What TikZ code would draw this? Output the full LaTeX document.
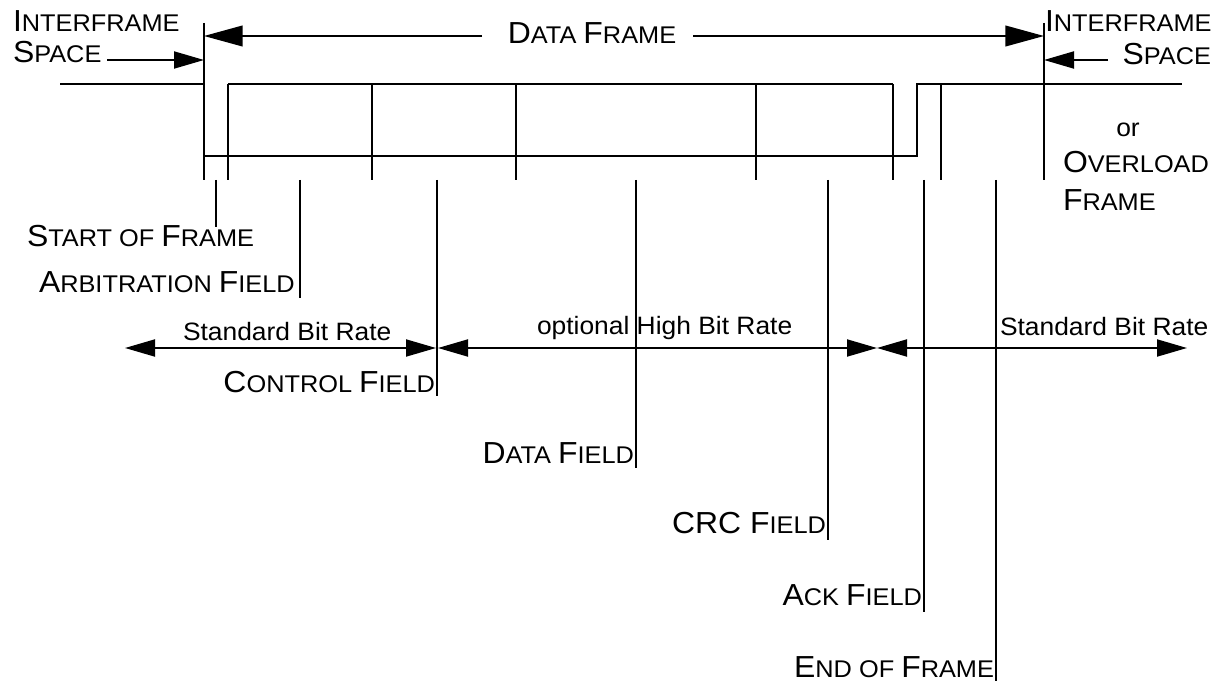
\documentclass[tikz,border=0pt]{standalone}
\usepackage{fontspec}
\setmainfont{Liberation Sans}[FakeStretch=1.05]
\usetikzlibrary{arrows.meta}
\newcommand\BC[1]{{\fontsize{22.8}{25}\selectfont #1}}
\newcommand\SC[1]{{\fontsize{18.1}{21}\selectfont #1}}
\newcommand\NT[1]{{\fontsize{18.85}{22}\selectfont #1}}
\begin{document}
\begin{tikzpicture}[x=0.75pt,y=-0.75pt,
  ln/.style={line width=1.45pt,line cap=butt},
  bigarr/.style={ln,-{Triangle[length=29pt,width=15.5pt]}},
  smallarr/.style={ln,-{Triangle[length=22.5pt,width=12.75pt]}},
  dblarr/.style={ln,{Triangle[length=22.5pt,width=12.75pt]}-{Triangle[length=22.5pt,width=12.75pt]}},
  lbl/.style={inner sep=0pt,outer sep=0pt}]
\useasboundingbox (0,0) rectangle (1221,681);

% ---- labels ----
\node[lbl,anchor=base west] (isl1) at (13,32) {\BC{I}\SC{NTERFRAME}};
\node[lbl,anchor=base west] (isl2) at (13,63) {\BC{S}\SC{PACE}};
\node[lbl,anchor=base] (dfr) at (592,44) {\BC{D}\SC{ATA }\BC{F}\SC{RAME}};
\node[lbl,anchor=base west] (isr1) at (1045,32) {\BC{I}\SC{NTERFRAME}};
\node[lbl,anchor=base east] (isr2) at (1211,65) {\BC{S}\SC{PACE}};
\node[lbl,anchor=base] (or) at (1128,137) {\NT{or}};
\node[lbl,anchor=base west] (ovl) at (1063,173) {\BC{O}\SC{VERLOAD}};
\node[lbl,anchor=base west] (ovf) at (1063,210) {\BC{F}\SC{RAME}};

\node[lbl,anchor=base west] (sof) at (27,247) {\BC{S}\SC{TART OF }\BC{F}\SC{RAME}};
\node[lbl,anchor=base west] (arb) at (39,292) {\BC{A}\SC{RBITRATION }\BC{F}\SC{IELD}};
\node[lbl,anchor=base east] (ctl) at (435,392) {\BC{C}\SC{ONTROL }\BC{F}\SC{IELD}};
\node[lbl,anchor=base east] (dat) at (634,463) {\BC{D}\SC{ATA }\BC{F}\SC{IELD}};
\node[lbl,anchor=base east] (crc) at (826,533) {\BC{CRC }\BC{F}\SC{IELD}};
\node[lbl,anchor=base east] (ack) at (922,605) {\BC{A}\SC{CK }\BC{F}\SC{IELD}};
\node[lbl,anchor=base east] (eof) at (994,677) {\BC{E}\SC{ND OF }\BC{F}\SC{RAME}};

\node[lbl,anchor=base west] (sbr1) at (183,340) {\NT{Standard Bit Rate}};
\node[lbl,anchor=base west] (hbr) at (537,334) {\NT{optional High Bit Rate}};
\node[lbl,anchor=base west] (sbr2) at (1000,335) {\NT{Standard Bit Rate}};

% ---- frame boundaries ----
\coordinate (bl-t) at (204,23);  \coordinate (bl-b) at (204,180);
\coordinate (br-t) at (1044,23); \coordinate (br-b) at (1044,180);
\draw[ln] (bl-t) -- (bl-b);
\draw[ln] (br-t) -- (br-b);

% ---- top arrows ----
\coordinate (dfa-l) at (482,36); \coordinate (dfa-lt) at (204,36);
\coordinate (dfa-r) at (693,36); \coordinate (dfa-rt) at (1044,36);
\draw[bigarr] (dfa-l) -- (dfa-lt);
\draw[bigarr] (dfa-r) -- (dfa-rt);
\coordinate (isa-l) at (107,60); \coordinate (isa-lt) at (204,60);
\coordinate (isa-r) at (1108,60); \coordinate (isa-rt) at (1044,60);
\draw[smallarr] (isa-l) -- (isa-lt);
\draw[smallarr] (isa-r) -- (isa-rt);

% ---- waveform ----
\draw[ln] (60,84) -- (204,84) -- (204,156) -- (917,156) -- (917,84) -- (1182,84);
\draw[ln] (228,84) -- (893,84);
\foreach \x in {228,372,516,756,893,941}
  \draw[ln] (\x,84) -- (\x,180);

% ---- leaders ----
\draw[ln] (216,180) -- (216,227);
\draw[ln] (300,180) -- (300,298);
\draw[ln] (437,180) -- (437,396);
\draw[ln] (636,180) -- (636,468);
\draw[ln] (828,180) -- (828,540);
\draw[ln] (924,180) -- (924,612);
\draw[ln] (996,180) -- (996,681);

% ---- bit-rate arrows ----
\coordinate (r1a) at (125,348); \coordinate (r1b) at (436,348);
\coordinate (r2a) at (438,348); \coordinate (r2b) at (877,348);
\coordinate (r3a) at (877,348); \coordinate (r3b) at (1187,348);
\draw[dblarr] (r1a) -- (r1b);
\draw[dblarr] (r2a) -- (r2b);
\draw[dblarr] (r3a) -- (r3b);
\end{tikzpicture}
\end{document}
